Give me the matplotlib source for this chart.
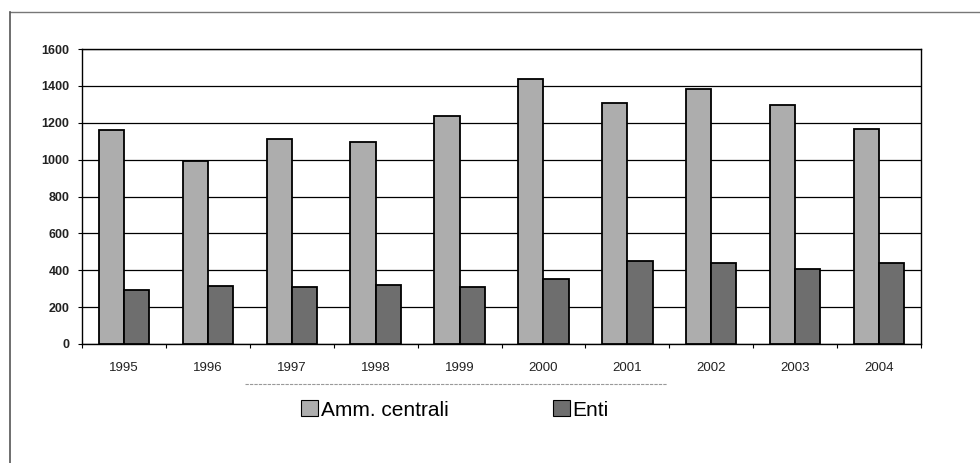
import matplotlib
matplotlib.use("Agg")
import matplotlib.pyplot as plt
from matplotlib.lines import Line2D
from matplotlib.patches import Patch
import numpy as np

plt.rcParams['font.family'] = ['Liberation Sans', 'DejaVu Sans']

years = ['1995', '1996', '1997', '1998', '1999', '2000', '2001', '2002', '2003', '2004']
amm_centrali = [1160, 995, 1110, 1095, 1235, 1440, 1305, 1385, 1295, 1168]
enti = [295, 315, 311, 319, 311, 353, 448, 439, 407, 439]
series_names = ['Amm. centrali', 'Enti']
yticks = [0, 200, 400, 600, 800, 1000, 1200, 1400, 1600]

W, H = 980, 463
fig = plt.figure(figsize=(W / 100, H / 100), dpi=100)
fig.patch.set_facecolor('white')

ax = fig.add_axes([82 / W, 1 - 344 / H, 839 / W, 295 / H])
x = np.arange(len(years))
bw = 0.30
c1, c2 = '#adadad', '#6e6e6e'
ax.bar(x - bw / 2, amm_centrali, bw, color=c1, edgecolor='black', linewidth=1.3, zorder=3)
ax.bar(x + bw / 2, enti, bw, color=c2, edgecolor='black', linewidth=1.3, zorder=3)

ax.set_xlim(-0.5, len(years) - 0.5)
ax.set_ylim(0, 1600)
ax.set_yticks(yticks)
ax.set_yticklabels([str(v) for v in yticks], fontsize=9, fontweight='bold', color='#222222')
ax.set_xticks(x)
ax.set_xticklabels(years, fontsize=9.5, color='#222222')
ax.tick_params(axis='x', length=0, pad=13)
ax.set_xticks(np.arange(-0.5, len(years)), minor=True)
ax.tick_params(axis='x', which='minor', length=3, direction='out', width=0.8)
ax.tick_params(axis='y', length=3, direction='out', width=0.8, pad=6)
ax.yaxis.grid(True, color='black', linewidth=0.9, zorder=0)
ax.set_axisbelow(True)
for s in ax.spines.values():
    s.set_color('black')
    s.set_linewidth(1.0)

handles = [Patch(facecolor=c1, edgecolor='black', linewidth=0.8),
           Patch(facecolor=c2, edgecolor='black', linewidth=0.8)]
fig.legend(handles, series_names, loc='center', bbox_to_anchor=(455 / W, 1 - 410 / H),
           ncol=2, frameon=False, fontsize=15, handlelength=0.8, handleheight=0.8,
           handletextpad=0.15, columnspacing=5.0)

# legend top border (dotted) and outer frame
fig.add_artist(Line2D([245 / W, 667 / W], [1 - 384 / H, 1 - 384 / H], color='#999999',
                      linewidth=0.8, linestyle=(0, (3, 1))))
fig.add_artist(Line2D([10 / W, 1.0], [1 - 12 / H, 1 - 12 / H], color='#777777', linewidth=1.0))
fig.add_artist(Line2D([10 / W, 10 / W], [0.0, 1 - 12 / H], color='#555555', linewidth=1.2))

fig.savefig('out.png', dpi=100, facecolor='white')
